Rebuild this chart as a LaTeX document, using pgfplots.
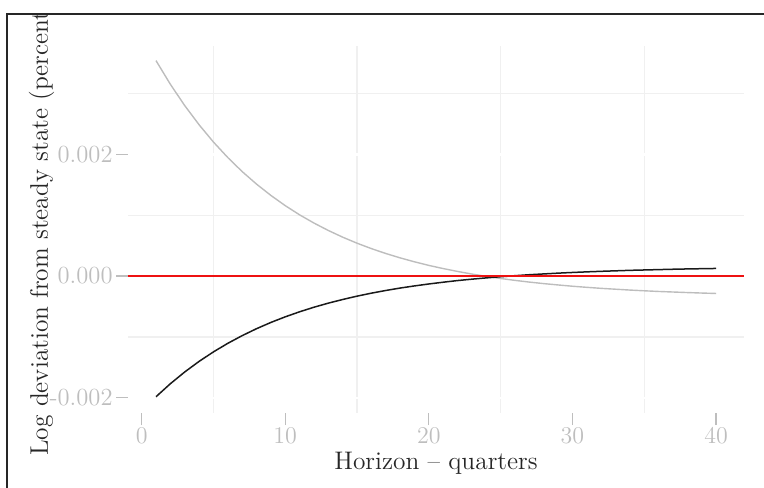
\documentclass[border=0pt]{standalone}
\usepackage{pgfplots}
\pgfplotsset{compat=1.18}
\definecolor{tickgray}{HTML}{BEBEBE}
\definecolor{gridgray}{HTML}{F0F0F0}
\definecolor{curvegray}{HTML}{BDBDBD}
\definecolor{labeldark}{HTML}{262626}
\definecolor{curveblack}{HTML}{1A1A1A}
\definecolor{linered}{HTML}{EE1111}
\pgfplotstableread{
x gray black
1 0.003540 -0.001983
2 0.003151 -0.001769
3 0.002801 -0.001576
4 0.002486 -0.001402
5 0.002202 -0.001246
6 0.001947 -0.001105
7 0.001717 -0.000979
8 0.001511 -0.000865
9 0.001325 -0.000762
10 0.001157 -0.000670
11 0.001006 -0.000587
12 0.000871 -0.000512
13 0.000749 -0.000445
14 0.000639 -0.000385
15 0.000540 -0.000330
16 0.000451 -0.000281
17 0.000371 -0.000237
18 0.000299 -0.000197
19 0.000234 -0.000162
20 0.000175 -0.000130
21 0.000123 -0.000101
22 0.000076 -0.000074
23 0.000033 -0.000051
24 -0.000005 -0.000030
25 -0.000040 -0.000011
26 -0.000071 0.000006
27 -0.000099 0.000022
28 -0.000124 0.000035
29 -0.000146 0.000048
30 -0.000167 0.000059
31 -0.000185 0.000069
32 -0.000202 0.000078
33 -0.000216 0.000086
34 -0.000230 0.000094
35 -0.000242 0.000100
36 -0.000253 0.000106
37 -0.000262 0.000112
38 -0.000271 0.000117
39 -0.000279 0.000121
40 -0.000286 0.000125
}\irf
\begin{document}
\begin{tikzpicture}[x=1pt,y=1pt]
\useasboundingbox (0,0) rectangle (382,243.5);
\begin{axis}[
  at={(64pt,37pt)}, anchor=south west, scale only axis,
  width=308pt, height=183.5pt,
  xmin=-0.95, xmax=41.95, ymin=-0.00225, ymax=0.00378,
  xtick={0,10,20,30,40}, minor xtick={5,15,25,35},
  ytick={-0.002,0,0.002}, minor ytick={-0.001,0.001,0.003},
  yticklabels={-0.002,0.000,0.002},
  scaled y ticks=false,
  axis line style={draw=none},
  tick pos=left, tick align=outside,
  major tick length=6pt, minor tick length=0pt,
  major tick style={tickgray, line width=0.6pt},
  grid=both,
  major grid style={white, line width=1.2pt},
  minor grid style={gridgray, line width=0.6pt},
  tick label style={tickgray, font=\fontsize{12.3}{14}\selectfont},
  xticklabel style={inner sep=1.5pt},
  yticklabel style={inner sep=1.5pt},
  clip=false,
]
\addplot[curvegray, line width=0.7pt] table[x=x, y=gray] {\irf};
\addplot[curveblack, line width=0.75pt] table[x=x, y=black] {\irf};
\addplot[linered, line width=0.75pt] coordinates {(-0.95,0) (41.95,0)};
\end{axis}
\begin{scope}
\clip (0,0) rectangle (382,236.5);
\node[rotate=90, anchor=base west, text=labeldark, inner sep=0pt, font=\fontsize{12.7}{15}\selectfont] at (24,15.5) {Log deviation from steady state (percent)};
\end{scope}
\node[anchor=base, text=labeldark, inner sep=0pt, font=\fontsize{12.7}{15}\selectfont] at (218,9) {Horizon -- quarters};
\draw[line width=1pt, black!85] (3.5,-1) -- (3.5,236.5) -- (383,236.5);
\end{tikzpicture}
\end{document}
